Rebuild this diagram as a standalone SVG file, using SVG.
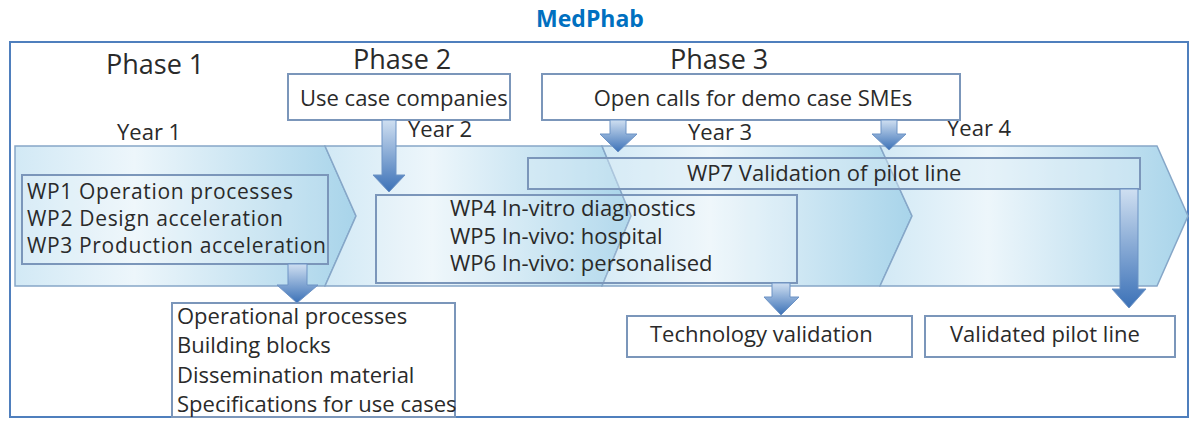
<svg xmlns="http://www.w3.org/2000/svg" width="1193" height="423" viewBox="0 0 1193 423">
<style>
.t{font-family:"Open Sans","Liberation Sans",sans-serif;font-size:22px;fill:#2a2a2a}
.s{font-size:21px}
.ph{font-family:"Open Sans","Liberation Sans",sans-serif;font-size:27px;fill:#2a2a2a}
.box{fill:#fff;stroke:#7b96ba;stroke-width:2}
.tbox{fill:#ffffff;fill-opacity:0.12;stroke:#7b96ba;stroke-width:2}
.chev{fill:url(#cg);stroke:#86a7c8;stroke-width:1.5}
.arr{fill:url(#ag);stroke:#6d93c5;stroke-width:1}
</style>
<defs>
<linearGradient id="cg" x1="0" y1="0" x2="1" y2="0">
<stop offset="0" stop-color="#d2e9f5"/>
<stop offset="0.35" stop-color="#edf6fb"/>
<stop offset="1" stop-color="#a8d4ea"/>
</linearGradient>
<linearGradient id="ag" x1="0" y1="0" x2="0" y2="1">
<stop offset="0" stop-color="#cfdff1"/>
<stop offset="1" stop-color="#3b71b7"/>
</linearGradient>
</defs>
<rect width="1193" height="423" fill="#fff"/>
<g id="title"><text x="590" y="27" text-anchor="middle" font-family="'Open Sans','Liberation Sans',sans-serif" font-weight="bold" font-size="23" fill="#0070c0">MedPhab</text></g>
<g id="frame"><rect x="10" y="42" width="1178" height="375" fill="none" stroke="#4f7fbd" stroke-width="2"/></g>
<g id="phases">
<text class="ph" x="106" y="74">Phase 1</text>
<text class="ph" x="353" y="69">Phase 2</text>
<text class="ph" x="670" y="69">Phase 3</text>
</g>
<g id="chevrons">
<path class="chev" d="M15,146 H325 L356,216 L325,286 H15 Z"/>
<path class="chev" d="M325,146 H602 L631,216 L602,286 H325 L356,216 Z"/>
<path class="chev" d="M602,146 H880 L912,216 L880,286 H602 L631,216 Z"/>
<path class="chev" d="M880,146 H1157 L1188,216 L1157,286 H880 L912,216 Z"/>
</g>
<g id="years">
<text class="t" x="117" y="140">Year 1</text>
<text class="t" x="408" y="137">Year 2</text>
<text class="t" x="688" y="140">Year 3</text>
<text class="t" x="947" y="136">Year 4</text>
</g>
<g id="usecase"><rect class="box" x="288" y="74" width="222" height="46"/><text class="t" x="300" y="106">Use case companies</text></g>
<g id="opencalls"><rect class="box" x="542" y="74" width="418" height="46"/><text class="t" x="753" y="106" text-anchor="middle">Open calls for demo case SMEs</text></g>
<g id="wp123"><rect class="tbox" x="22" y="175" width="306" height="89"/>
<text class="t s" x="27" y="199" textLength="266">WP1 Operation processes</text>
<text class="t s" x="27" y="226" textLength="256">WP2 Design acceleration</text>
<text class="t s" x="27" y="253" textLength="299">WP3 Production acceleration</text></g>
<g id="wp7"><rect x="528" y="158" width="612" height="31" fill="#dcedf7" fill-opacity="0.45" stroke="#7b96ba" stroke-width="2"/><text class="t" x="687" y="181">WP7 Validation of pilot line</text></g>
<g id="wp456"><rect class="tbox" x="376" y="195" width="421" height="88"/>
<text class="t" x="450" y="216">WP4 In-vitro diagnostics</text>
<text class="t" x="450" y="244">WP5 In-vivo: hospital</text>
<text class="t" x="450" y="271">WP6 In-vivo: personalised</text></g>
<g id="outputs"><rect class="box" x="172" y="303" width="283" height="114"/>
<text class="t" x="177" y="324">Operational processes</text>
<text class="t" x="177" y="353">Building blocks</text>
<text class="t" x="177" y="383">Dissemination material</text>
<text class="t" x="177" y="412">Specifications for use cases</text></g>
<g id="techval"><rect class="box" x="627" y="316" width="285" height="41"/><text class="t" x="650" y="342">Technology validation</text></g>
<g id="pilot"><rect class="box" x="925" y="316" width="250" height="41"/><text class="t" x="950" y="342">Validated pilot line</text></g>
<g id="connectors">
<path class="arr" d="M382,120 H396 V175 H405 L389,192 L373,175 H382 Z"/>
<path class="arr" d="M610,120 H626 V134 H637 L618,152 L600,134 H610 Z"/>
<path class="arr" d="M881,120 H897 V134 H906 L889,150 L872,134 H881 Z"/>
<path class="arr" d="M288,264 H307 V285 H318 L297,303 L277,285 H288 Z"/>
<path class="arr" d="M772,283 H790 V297 H799 L781,315 L764,297 H772 Z"/>
<path class="arr" d="M1120,189 H1138 V289 H1146 L1129,308 L1112,289 H1120 Z"/>
</g>
</svg>
